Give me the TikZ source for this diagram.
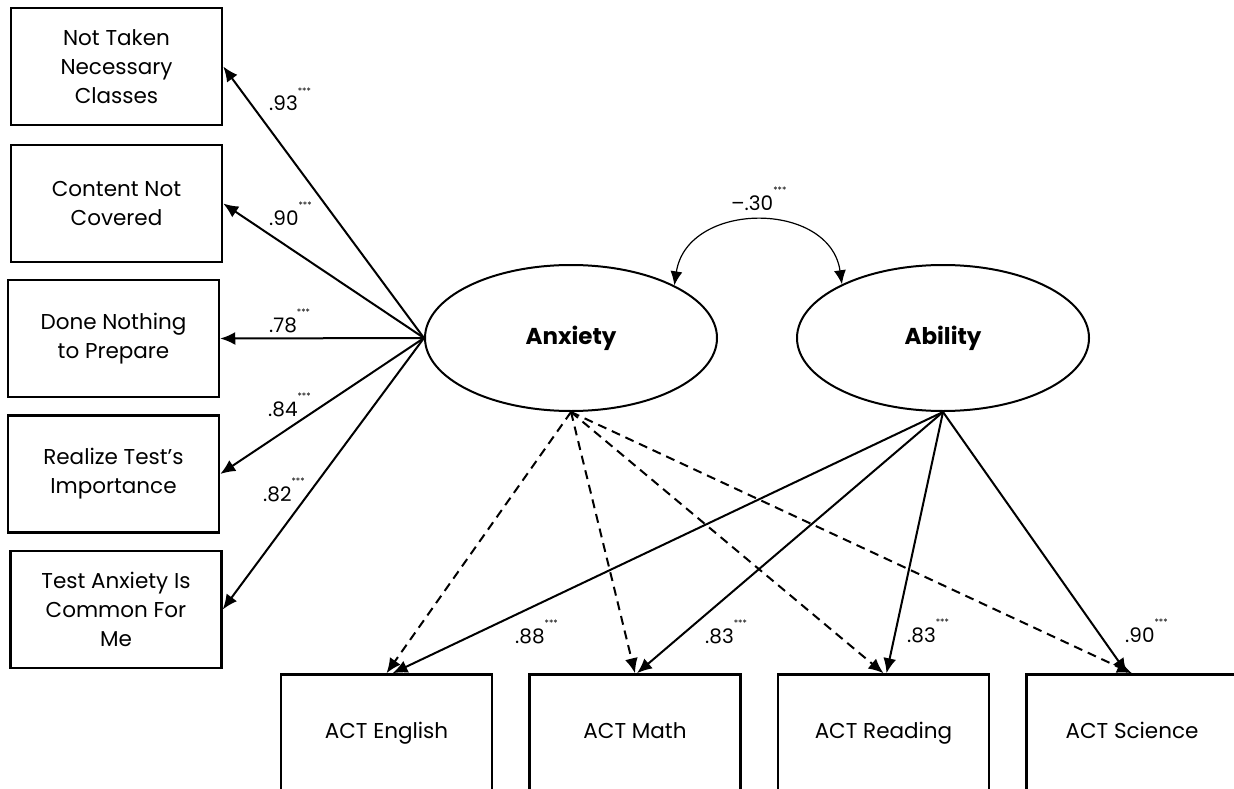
\documentclass[tikz,border=0pt]{standalone}
\usepackage{fontspec}
\setmainfont{Poppins}
\usepackage{tikz}
\usetikzlibrary{arrows.meta,shapes.geometric,positioning}
\newcommand{\stars}{\raisebox{17pt}{\fontsize{9}{9}\selectfont ***}}

\begin{document}
\begin{tikzpicture}
	[x=1pt, y=-1pt, inner sep=0pt,
	latent/.style	= {ellipse,draw,line width=2pt,minimum width=292pt,minimum height=146pt,font=\bfseries\fontsize{23}{26}\selectfont},
	manifest/.style	= {rectangle,draw,line width=2.5pt,minimum width=211pt,minimum height=117pt,align=center,font=\fontsize{21.5}{29}\selectfont},
	outcome/.style	= {manifest, text height=15pt, text depth=5pt},
	paths/.style	= {-{Latex[length=15pt,width=13pt]}, line width=2pt},
	dpaths/.style	= {paths, dash pattern=on 9pt off 6pt},
	covar/.style	= {{Latex[length=14pt,width=12pt]}-{Latex[length=14pt,width=12pt]}, line width=1.2pt},
	coef/.style	= {anchor=base west, font=\fontsize{20}{22}\selectfont}]
	
	\useasboundingbox (0,0) rectangle (1234,789);
	
	\node at (571, 338)		[latent]	(anx)	{Anxiety};
	\node at (943, 338)		[latent]	(abl)	{Ability};
	
	\node at (116.5, 66.5)	[manifest]	(i1)	{Not Taken\\Necessary\\Classes};
	\node at (116.5, 203.5)	[manifest]	(i2)	{Content Not\\Covered};
	\node at (113.5, 338.5)	[manifest]	(i3)	{Done Nothing\\to Prepare};
	\node at (113.5, 474)	[manifest]	(i4)	{Realize Test’s\\Importance};
	\node at (116, 609.5)	[manifest]	(i5)	{Test Anxiety Is\\Common For\\Me};
	
	\node at (386.5, 733)	[outcome]	(eng)	{ACT English};
	\node at (635, 733)		[outcome]	(mat)	{ACT Math};
	\node at (883.5, 733)	[outcome]	(rea)	{ACT Reading};
	\node at (1132, 733)	[outcome]	(sci)	{ACT Science};
	
	\draw [paths] (anx.west) -- (i1.east);
	\draw [paths] (anx.west) -- (i2.east);
	\draw [paths] (anx.west) -- (i3.east);
	\draw [paths] (anx.west) -- (i4.east);
	\draw [paths] (anx.west) -- (i5.east);
	
	\draw [dpaths] (anx.south) -- (eng.north);
	\draw [dpaths] (anx.south) -- (mat.north);
	\draw [dpaths] (anx.south) -- (rea.north);
	\draw [dpaths] (anx.south) -- (sci.north);
	
	\draw [paths] (abl.south) -- ([xshift=6pt]eng.north);
	\draw [paths] (abl.south) -- ([xshift=2pt]mat.north);
	\draw [paths] (abl.south) -- ([xshift=3pt]rea.north);
	\draw [paths] (abl.south) -- ([xshift=-5pt]sci.north);
	
	\draw [covar] (anx.27) .. controls +(13,-85) and +(-12,-84) .. (abl.152);
	
	\node at (269, 111)		[coef]	(c1)	{.93\stars};
	\node at (269, 225)		[coef]	(c2)	{.90\stars};
	\node at (269, 332)		[coef]	(c3)	{.78\stars};
	\node at (268, 416)		[coef]	(c4)	{.84\stars};
	\node at (263, 501)		[coef]	(c5)	{.82\stars};
	\node at (515, 643)		[coef]	(c6)	{.88\stars};
	\node at (705, 643)		[coef]	(c7)	{.83\stars};
	\node at (907, 642)		[coef]	(c8)	{.83\stars};
	\node at (1125, 642)	[coef]	(c9)	{.90\stars};
	\node at (731, 210)		[coef]	(cv)	{\textendash.30\stars};
	
\end{tikzpicture}
\end{document}
